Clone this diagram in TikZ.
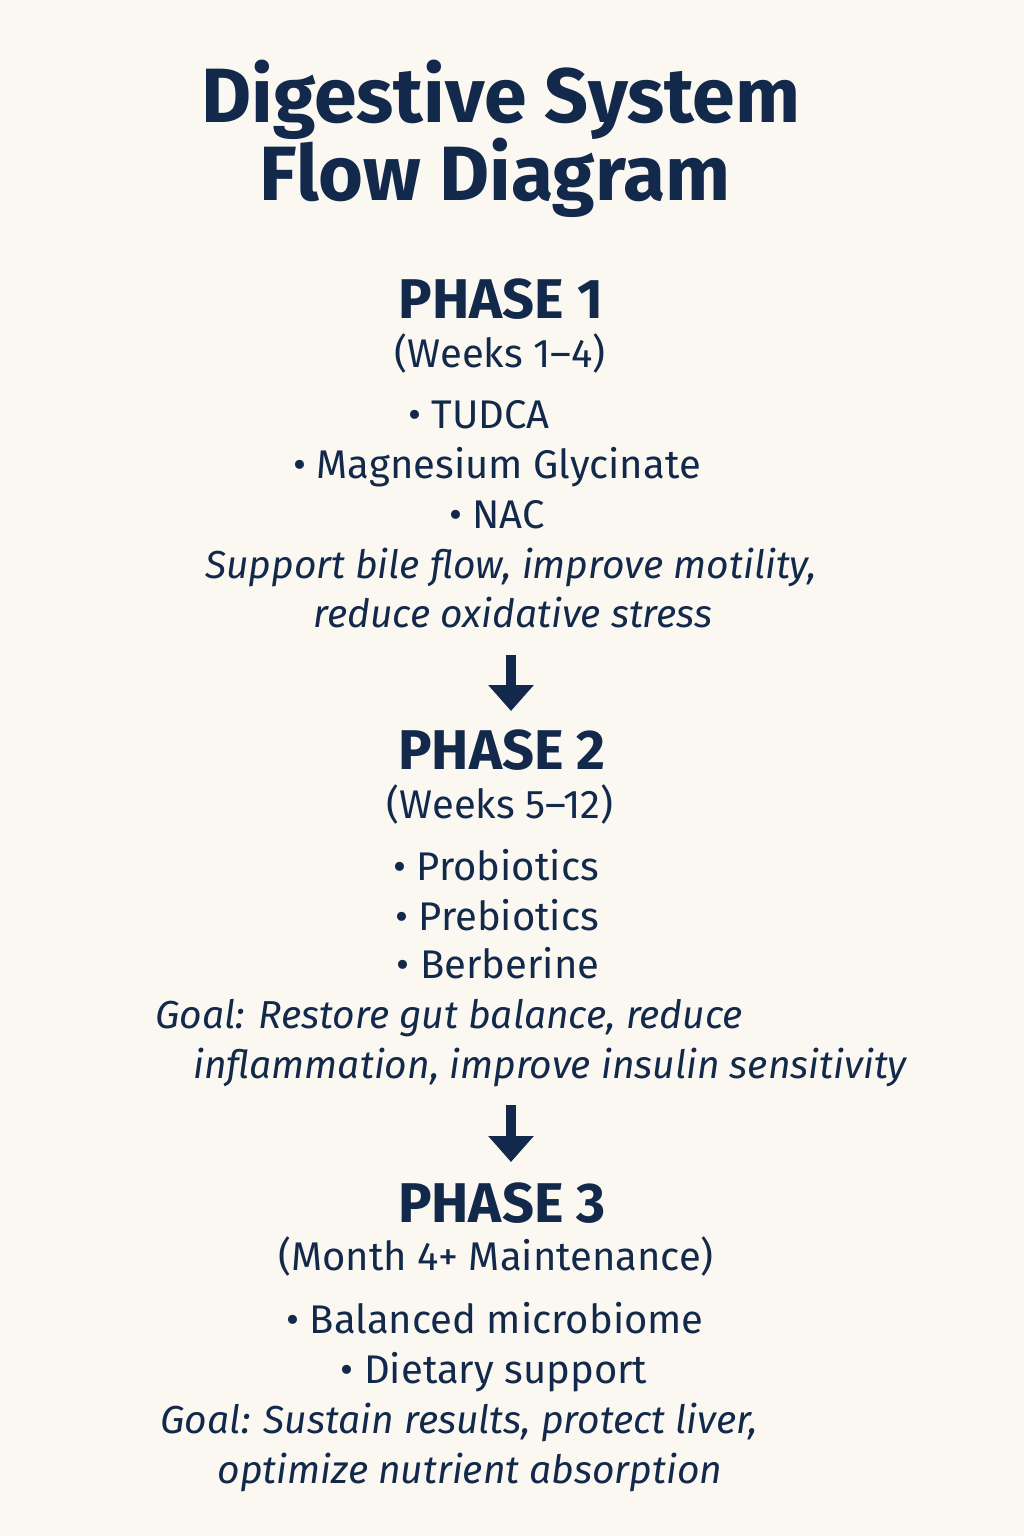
\documentclass[tikz,border=0pt]{standalone}
\usepackage{fontspec}
\setmainfont{Fira Sans}
\usetikzlibrary{arrows.meta}
\definecolor{navy}{HTML}{13294B}
\definecolor{paper}{HTML}{FBF8F1}
\begin{document}
\begin{tikzpicture}[x=1pt,y=-1pt,
    title/.style={anchor=base,inner sep=0pt,text=navy,font=\fontsize{77}{84}\selectfont\bfseries},
    phase/.style={anchor=base,inner sep=0pt,text=navy,font=\fontsize{56}{62}\selectfont\bfseries},
    plain/.style={anchor=base,inner sep=0pt,text=navy,font=\fontsize{40}{46}\selectfont},
    note/.style={anchor=base,inner sep=0pt,text=navy,font=\fontsize{39}{45}\selectfont\itshape},
    flow/.style={line width=10pt,draw=navy,-{Triangle[width=44pt,length=26pt]}}]
  \fill[paper] (0,0) rectangle (1024,1536);
  % title
  \node[title] (title1) at (501,123) {Digestive System};
  \node[title] (title2) at (495,200) {Flow Diagram};
  % phase 1
  \node[phase] (ph1) at (501,318) {PHASE 1};
  \node[plain] (wk1) at (500,367) {(Weeks 1–4)};
  \node[plain] (tudca) at (479,428) {• TUDCA};
  \node[plain] (magn) at (497,478) {• Magnesium Glycinate};
  \node[plain] (nac) at (497,528) {• NAC};
  \node[note] (goal1a) at (511,578) {Support bile flow, improve motility,};
  \node[note] (goal1b) at (513,627) {reduce oxidative stress};
  \coordinate (flowA) at (511,655);
  \coordinate (flowAend) at (511,711);
  \draw[flow] (flowA) -- (flowAend);
  % phase 2
  \node[phase] (ph2) at (502,769) {PHASE 2};
  \node[plain] (wk2) at (500,818) {(Weeks 5–12)};
  \node[plain] (probio) at (496,880) {• Probiotics};
  \node[plain] (prebio) at (497,930) {• Prebiotics};
  \node[plain] (berb) at (498,978) {• Berberine};
  \node[note,anchor=base west] (goal2a) at (155,1028) {Goal: Restore gut balance, reduce};
  \node[note] (goal2b) at (550,1078) {inflammation, improve insulin sensitivity};
  \coordinate (flowB) at (511,1105);
  \coordinate (flowBend) at (511,1162);
  \draw[flow] (flowB) -- (flowBend);
  % phase 3
  \node[phase] (ph3) at (502,1222) {PHASE 3};
  \node[plain] (month) at (496,1270) {(Month 4+ Maintenance)};
  \node[plain] (micro) at (495,1333) {• Balanced microbiome};
  \node[plain] (diet) at (494,1383) {• Dietary support};
  \node[note] (goal3a) at (459,1433) {Goal: Sustain results, protect liver,};
  \node[note] (goal3b) at (470,1483) {optimize nutrient absorption};
\end{tikzpicture}
\end{document}
